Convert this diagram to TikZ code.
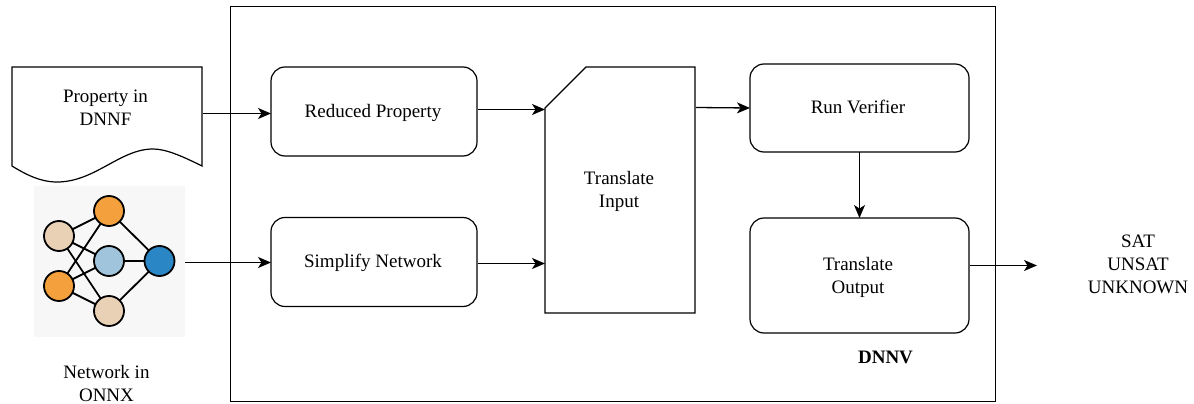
\documentclass[tikz,border=0pt]{standalone}
\usepackage{fontspec}
\setmainfont{Liberation Serif}
\usetikzlibrary{arrows.meta}
\tikzset{
  box/.style={draw,rounded corners=14pt,align=center,minimum width=206pt,minimum height=89pt,inner sep=0pt,outer sep=0pt},
  label/.style={align=center,inner sep=0pt},
  flow/.style={-{Stealth[length=13pt,width=11pt,inset=3.5pt]},line width=1.3pt},
  neuron/.style={circle,draw,line width=1.8pt,minimum size=30pt,inner sep=0pt,outer sep=0pt},
  wire/.style={line width=1.8pt}
}
\definecolor{beige}{HTML}{E8D1B5}
\definecolor{amber}{HTML}{F4A03C}
\definecolor{pale}{HTML}{A0C4DC}
\definecolor{deep}{HTML}{2B86C5}
\definecolor{panel}{HTML}{F7F7F7}
\begin{document}
\begin{tikzpicture}[x=1pt,y=-1pt,line width=1.2pt,font=\fontsize{19}{23}\selectfont]
      \useasboundingbox (0,0) rectangle (1194,404);
      % outer frame
      \node[draw,minimum width=765pt,minimum height=395pt,inner sep=0pt] (dnnv) at (613,204) {};
      \node[label,font=\fontsize{19}{23}\selectfont\bfseries] (dnnvlabel) at (885.5,357) {DNNV};
      % document on the left
      \draw (12,67) -- (202,67) -- (202,166)
        .. controls (180,155) and (165,149) .. (153,149)
        .. controls (120,149) and (95,182) .. (57,182)
        .. controls (40,182) and (25,174) .. (12,166) -- cycle;
      \node[label] (property) at (105.5,107.5) {Property in\\DNNF};
      % network icon
      \node[fill=panel,minimum size=151pt,inner sep=0pt,outer sep=0pt] (network) at (109.5,261.5) {};
      \begin{scope}[wire]
        \coordinate (a) at (59,236);
        \coordinate (b) at (59,286);
        \coordinate (c) at (109,211);
        \coordinate (d) at (109,261);
        \coordinate (e) at (109,311);
        \coordinate (f) at (159.5,261);
        \draw (a) to (c);
        \draw (a) to (d);
        \draw (a) to (e);
        \draw (b) to (c);
        \draw (b) to (d);
        \draw (b) to (e);
        \draw (c) to (f);
        \draw (d) to (f);
        \draw (e) to (f);
      \end{scope}
      \draw
        (a) node[neuron,fill=beige] (na){}
        (b) node[neuron,fill=amber] (nb){}
        (c) node[neuron,fill=amber] (nc){}
        (d) node[neuron,fill=pale] (nd){}
        (e) node[neuron,fill=beige] (ne){}
        (f) node[neuron,fill=deep] (nf){};
      \node[label] (networklabel) at (106.5,383.5) {Network in\\ONNX};
      % inner steps
      \node[box] (reduced) at (374,111.5) {};
      \node[box] (simplify) at (374,262) {};
      \node[label] (reducedlabel) at (373,112.5) {Reduced Property};
      \node[label] (simplifylabel) at (373,262.5) {Simplify Network};
      \node[box,minimum width=219pt,minimum height=88pt] (verifier) at (859.5,108) {};
      \node[label] (verifierlabel) at (858,107) {Run Verifier};
      \node[box,minimum width=219pt,minimum height=115pt] (output) at (859.5,275.5) {};
      \node[label] (outputlabel) at (858,277.5) {Translate\\Output};
      \draw (545,108) -- (586,67) -- (695,67) -- (695,313) -- (545,313) -- cycle;
      \node[label] (input) at (619,191) {Translate\\Input};
      \node[label] (result) at (1138,264) {SAT\\UNSAT\\UNKNOWN};
      % free ends of the arrows
      \coordinate (p1) at (203,113.5);
      \coordinate (p2) at (271,113.5);
      \coordinate (p3) at (185,262.5);
      \coordinate (p4) at (271,262.5);
      \coordinate (p5) at (478,109.5);
      \coordinate (p6) at (545,109.5);
      \coordinate (p7) at (478,263.5);
      \coordinate (p8) at (545,263.5);
      \coordinate (p9) at (696,107.5);
      \coordinate (p10) at (970,265.5);
      \coordinate (p11) at (1037,265.5);
      \begin{scope}[flow]
        \draw (p1) to (p2);
        \draw (p3) to (p4);
        \draw (p5) to (p6);
        \draw (p7) to (p8);
        \draw (p9) to (verifier.west);
        \draw (verifier.south) to (output.north);
        \draw (p10) to (p11);
      \end{scope}
    \end{tikzpicture}
\end{document}
